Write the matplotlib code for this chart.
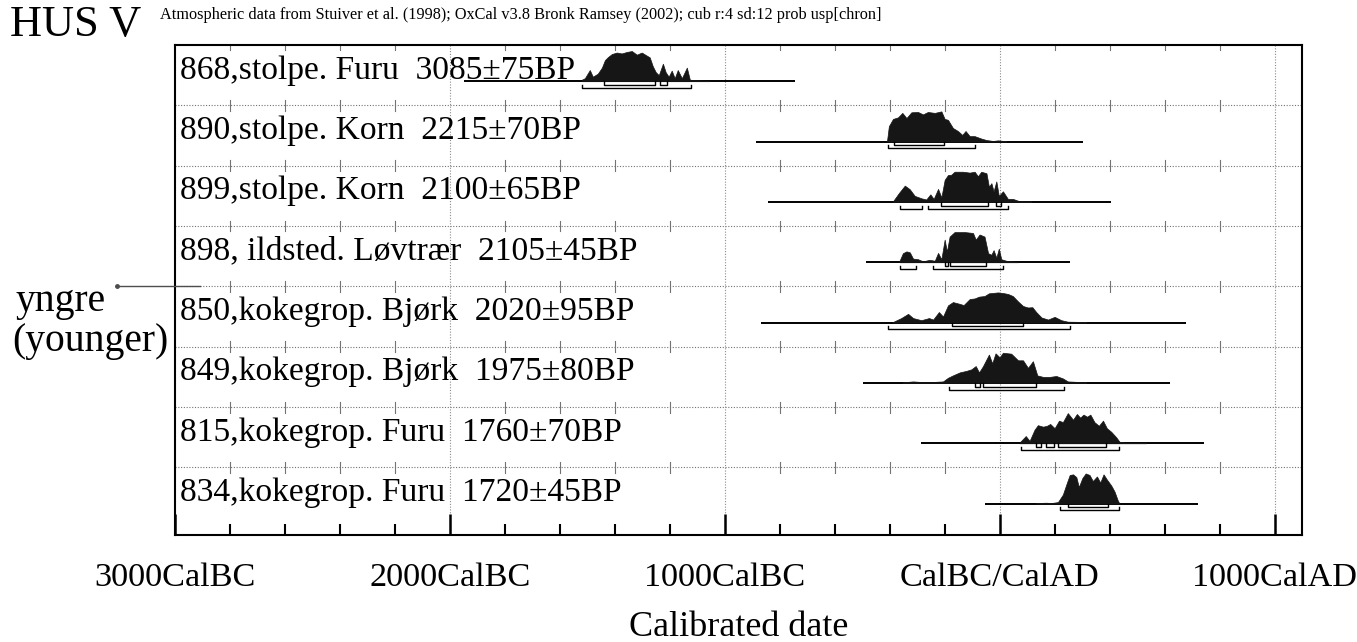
import numpy as np
import matplotlib
matplotlib.use("Agg")
import matplotlib.pyplot as plt
from matplotlib.ticker import FixedLocator, FuncFormatter

plt.rcParams['font.family'] = ['Liberation Serif', 'DejaVu Serif']

# sample labels, top to bottom
labels = [
    "868,stolpe. Furu  3085\u00b175BP",
    "890,stolpe. Korn  2215\u00b170BP",
    "899,stolpe. Korn  2100\u00b165BP",
    "898, ildsted. L\u00f8vtr\u00e6r  2105\u00b145BP",
    "850,kokegrop. Bj\u00f8rk  2020\u00b195BP",
    "849,kokegrop. Bj\u00f8rk  1975\u00b180BP",
    "815,kokegrop. Furu  1760\u00b170BP",
    "834,kokegrop. Furu  1720\u00b145BP",
]

# calibrated probability (relative to max); years BC negative
yr_868 = [-1520, -1509, -1491, -1480, -1462, -1447, -1436, -1425, -1411, -1393, -1375, -1356, -1338,
          -1320, -1302, -1284, -1273, -1262, -1251, -1240, -1225, -1215, -1204, -1193, -1182, -1171,
          -1156, -1138, -1127, -1102, -1055]
p_868 = [0.05, 0.1, 0.37, 0.15, 0.25, 0.45, 0.7, 0.8, 0.9, 0.95, 0.92, 0.97, 1.0,
         0.88, 0.95, 0.85, 0.79, 0.5, 0.3, 0.2, 0.58, 0.3, 0.15, 0.35, 0.1, 0.37,
         0.1, 0.45, 0.05, 0.03, 0.01]

yr_890 = [-410, -403, -388, -370, -354, -339, -321, -297, -279, -261, -236, -212, -200, -188,
          -170, -152, -136, -124, -109, -91, -67, -48, -24, -6, 24]
p_890 = [0.0, 0.51, 0.75, 0.8, 0.95, 0.78, 0.97, 0.98, 0.9, 0.98, 0.95, 1.0, 0.75, 0.72,
         0.45, 0.35, 0.22, 0.35, 0.18, 0.18, 0.1, 0.05, 0.02, 0.04, 0.01]

yr_899 = [-388, -366, -345, -327, -309, -285, -267, -252, -240, -224, -212, -200, -188, -176,
          -164, -133, -109, -91, -79, -67, -48, -39, -30, -22, -12, -3, 12, 30, 48, 73, 115]
p_899 = [0.02, 0.3, 0.54, 0.42, 0.2, 0.12, 0.08, 0.25, 0.1, 0.43, 0.15, 0.73, 0.89, 0.9,
         1.0, 1.0, 0.97, 1.0, 0.85, 1.0, 0.95, 0.5, 0.62, 0.35, 0.68, 0.2, 0.35, 0.1, 0.1, 0.02, 0.02]

yr_898 = [-364, -352, -339, -327, -315, -297, -279, -255, -236, -224, -212, -200, -192, -182,
          -164, -127, -97, -87, -73, -55, -42, -30, -22, -12, -3, 6, 24, 48, 67]
p_898 = [0.05, 0.3, 0.36, 0.33, 0.12, 0.1, 0.03, 0.08, 0.05, 0.31, 0.1, 0.75, 0.35, 0.85,
         1.0, 1.0, 0.97, 0.75, 0.92, 0.85, 0.3, 0.25, 0.4, 0.15, 0.45, 0.1, 0.05, 0.03, 0.0]

yr_850 = [-388, -358, -333, -315, -285, -257, -242, -221, -206, -188, -170, -145, -131, -109,
          -91, -75, -55, -39, -6, 12, 30, 48, 67, 85, 103, 119, 133, 152, 176, 200, 224, 248, 315]
p_850 = [0.02, 0.15, 0.29, 0.15, 0.08, 0.15, 0.1, 0.35, 0.2, 0.57, 0.68, 0.62, 0.58, 0.78,
         0.8, 0.86, 0.88, 0.97, 1.0, 0.98, 0.95, 0.88, 0.7, 0.55, 0.5, 0.51, 0.35, 0.17, 0.1,
         0.19, 0.08, 0.03, 0.02]

yr_849 = [-352, -315, -267, -206, -188, -170, -145, -121, -103, -87, -75, -61, -39, -27, -15,
          0, 12, 42, 67, 85, 103, 121, 137, 158, 182, 206, 230, 248, 315]
p_849 = [0.02, 0.05, 0.02, 0.05, 0.17, 0.25, 0.35, 0.4, 0.45, 0.56, 0.35, 0.55, 0.94, 0.65, 0.98,
         0.85, 1.0, 0.97, 0.75, 0.75, 0.5, 0.72, 0.25, 0.2, 0.2, 0.23, 0.15, 0.05, 0.02]

yr_815 = [73, 95, 109, 127, 139, 158, 172, 184, 200, 216, 230, 248, 267, 281, 293, 305, 318,
          330, 345, 361, 376, 390, 406, 424, 436, 461, 533]
p_815 = [0.03, 0.24, 0.08, 0.45, 0.6, 0.55, 0.58, 0.64, 0.5, 0.75, 0.7, 1.0, 0.78, 0.97, 0.85,
         0.95, 0.88, 0.95, 0.7, 0.58, 0.75, 0.5, 0.38, 0.2, 0.05, 0.02, 0.02]

yr_834 = [133, 170, 188, 212, 230, 245, 255, 267, 279, 288, 301, 313, 327, 339, 354, 366, 378,
          390, 406, 418, 430, 436]
p_834 = [0.02, 0.03, 0.02, 0.05, 0.3, 0.7, 0.95, 0.97, 0.88, 0.55, 0.85, 1.0, 0.95, 0.75, 0.9,
         0.7, 0.97, 0.8, 0.6, 0.4, 0.1, 0.0]

# extent of the drawn time line for each sample
spans = [(-1950, -745), (-887, 302), (-842, 406), (-487, 255),
         (-867, 679), (-497, 618), (-285, 742), (-55, 721)]

# 68.2% and 95.4% ranges
r68 = [[(-1440, -1255), (-1236, -1211)],
       [(-385, -204)],
       [(-212, -42), (-15, 4)],
       [(-200, -188), (-182, -48)],
       [(-173, 85)],
       [(-91, -70), (-61, 131)],
       [(131, 152), (167, 196), (212, 388)],
       [(248, 394)]]
r95 = [[(-1520, -1124)],
       [(-407, -88)],
       [(-361, -281), (-261, 30)],
       [(-364, -303), (-242, 12)],
       [(-406, 255)],
       [(-184, 233)],
       [(79, 436)],
       [(218, 436)]]

years = [yr_868, yr_890, yr_899, yr_898, yr_850, yr_849, yr_815, yr_834]
probs = [p_868, p_890, p_899, p_898, p_850, p_849, p_815, p_834]

major_ticks = [-3000, -2000, -1000, 0, 1000]
tick_names = ["3000CalBC", "2000CalBC", "1000CalBC", "CalBC/CalAD", "1000CalAD"]
minor_ticks = list(range(-3000, 1101, 200))

fig = plt.figure(figsize=(13.57, 6.42), dpi=100)
ax = fig.add_axes([175 / 1357, 1 - 535 / 642, 1127 / 1357, 490 / 642])
n = len(labels)
ax.set_xlim(-3000, 1100)
ax.set_ylim(n + 0.12, 0)

# grid
for g in range(1, n):
    ax.axhline(g, color='0.45', lw=0.8, ls=(0, (1, 1.5)), zorder=1)
for m in major_ticks[1:]:
    ax.axvline(m, color='0.55', lw=0.8, ls=(0, (1, 1.5)), zorder=1.5)
for m in minor_ticks:
    if m % 1000 == 0:
        continue
    for g in range(0, n):
        ax.plot([m, m], [g - 0.09, g + 0.09], color='0.45', lw=0.8, zorder=1)

for i in range(n):
    base = i + 0.6
    ax.hlines(base, spans[i][0], spans[i][1], color='black', lw=1.4, zorder=2)
    x = np.array(years[i])
    h = np.array(probs[i])
    ax.fill_between(x, base, base - 0.5 * h, color='#161616', lw=0.5, zorder=3)
    for a, b in r68[i]:
        ax.plot([a, a, b, b], [base, base + 0.06, base + 0.06, base], color='black', lw=1.0, zorder=3)
    for a, b in r95[i]:
        ax.plot([a, a, b, b], [base + 0.06, base + 0.11, base + 0.11, base + 0.06], color='black', lw=1.0, zorder=3)
    ax.text(-2982, i + 0.42, labels[i], fontsize=24.1, va='center', ha='left', zorder=5)

for s in ax.spines.values():
    s.set_linewidth(1.5)
ax.tick_params(left=False, labelleft=False)
ax.xaxis.set_major_locator(FixedLocator(major_ticks))
ax.xaxis.set_minor_locator(FixedLocator(minor_ticks))
ax.xaxis.set_major_formatter(FuncFormatter(lambda v, p: tick_names[major_ticks.index(int(round(v)))]))
ax.tick_params(axis='x', which='major', direction='in', length=15, width=1.8, labelsize=24.7, pad=20)
ax.tick_params(axis='x', which='minor', direction='in', length=8, width=1.5)
ax.set_xlabel("Calibrated date", fontsize=26, labelpad=13)

# header and side note
fig.text(10 / 1357, 1 - 25 / 642, "HUS V", fontsize=32, va='center', ha='left')
fig.text(160 / 1357, 1 - 15 / 642, "Atmospheric data from Stuiver et al. (1998); OxCal v3.8 Bronk Ramsey (2002); "
         "cub r:4 sd:12 prob usp[chron]", fontsize=11.7, va='center', ha='left')
fig.text(15 / 1357, 1 - 301 / 642, "yngre", fontsize=28.5, va='center', ha='left')
fig.text(12 / 1357, 1 - 341 / 642, "(younger)", fontsize=28.5, va='center', ha='left')
ax.plot([-3211, -2909], [4, 4], color='0.3', lw=1.0, clip_on=False, zorder=5)
ax.plot([-3211], [4], 'o', color='0.3', ms=2.5, clip_on=False)

fig.savefig("out.png", dpi=100)
